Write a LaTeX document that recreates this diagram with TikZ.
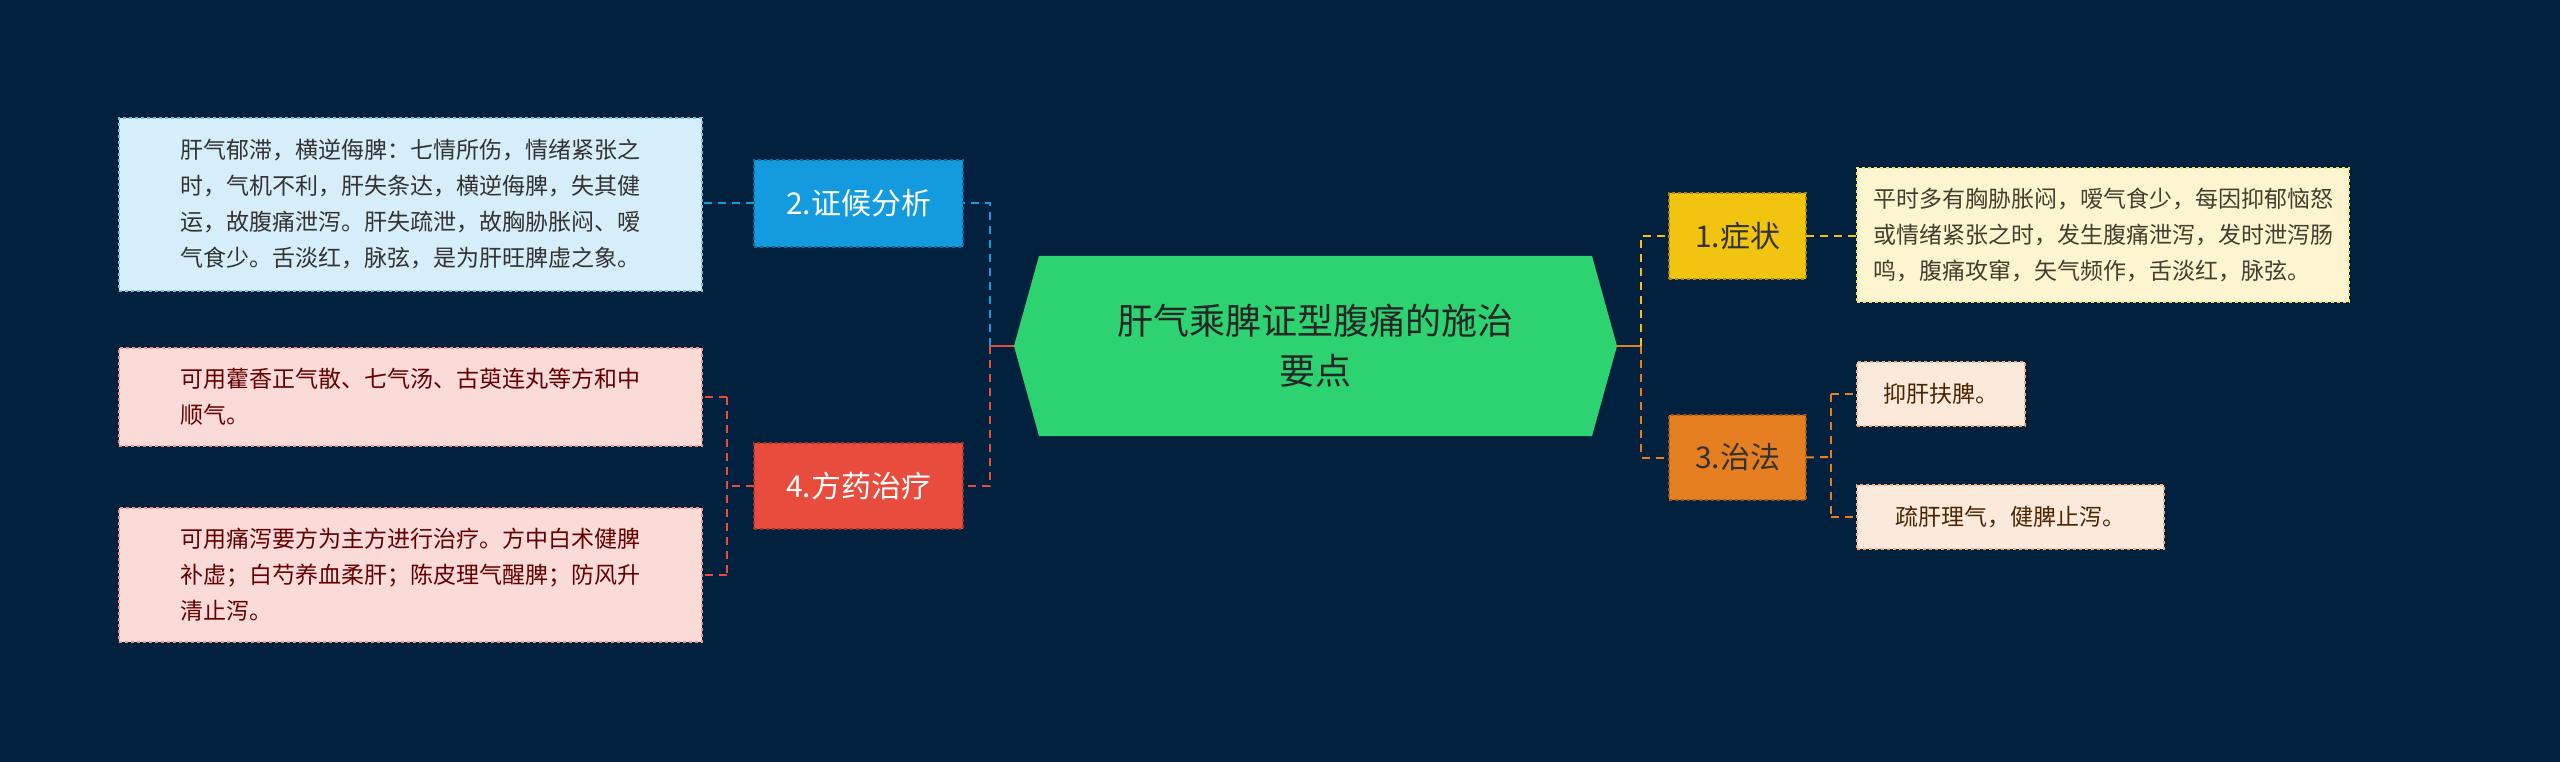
\documentclass[tikz,border=0pt]{standalone}
\usepackage{fontspec}
\setmainfont{Noto Sans CJK SC}
\usetikzlibrary{positioning}
\definecolor{bg}{RGB}{2,33,63}
\definecolor{cgreen}{RGB}{46,211,113}
\definecolor{cblue}{RGB}{20,154,222}
\definecolor{cred}{RGB}{231,76,60}
\definecolor{cyel}{RGB}{241,196,15}
\definecolor{corg}{RGB}{230,126,34}
\definecolor{lblue}{RGB}{214,238,250}
\definecolor{lpink}{RGB}{250,219,216}
\definecolor{lcream}{RGB}{253,245,208}
\definecolor{lpeach}{RGB}{251,233,220}
\tikzset{
  box/.style={draw, dashed, line width=1.5pt, inner sep=0pt, outer sep=0pt, anchor=north west},
  leaf/.style={box, font=\fontsize{23}{36}\selectfont, align=left, inner xsep=16pt},
  con/.style={line width=2pt, dashed, dash pattern=on 8pt off 6pt},
}
\begin{document}
\begin{tikzpicture}[x=1pt,y=-1pt]
\fill[bg] (0,0) rectangle (2560,762);
\useasboundingbox (0,0) rectangle (2560,762);
% center
\fill[cgreen] (1014,346) -- (1039,256) -- (1592,256) -- (1617,346) -- (1592,436) -- (1039,436) -- cycle;
\node[font=\fontsize{36}{50}\selectfont, text=black!85, align=center] (c) at (1315.5,346) {肝气乘脾证型腹痛的施治\\要点};
\coordinate (cl) at (1014,346);
\coordinate (cr) at (1617,346);
% main nodes
\node[box, fill=cblue, draw=cblue!70!black, minimum width=209pt, minimum height=87pt, text=white, font=\fontsize{30}{36}\selectfont] (n2) at (754,160) {2.证候分析};
\node[box, fill=cred, draw=cred!70!black, minimum width=209pt, minimum height=86pt, text=white, font=\fontsize{30}{36}\selectfont] (n4) at (754,443) {4.方药治疗};
\node[box, fill=cyel, draw=cyel!70!black, minimum width=137pt, minimum height=86pt, text=black!80, font=\fontsize{30}{36}\selectfont] (n1) at (1669,193) {1.症状};
\node[box, fill=corg, draw=corg!70!black, minimum width=137pt, minimum height=85pt, text=black!80, font=\fontsize{30}{36}\selectfont] (n3) at (1669,415) {3.治法};
% leaves
\node[leaf, fill=lblue, draw=cblue!60, text=black!80, minimum width=583pt, minimum height=173pt] (l1) at (119,118) {肝气郁滞，横逆侮脾：七情所伤，情绪紧张之\\时，气机不利，肝失条达，横逆侮脾，失其健\\运，故腹痛泄泻。肝失疏泄，故胸胁胀闷、嗳\\气食少。舌淡红，脉弦，是为肝旺脾虚之象。};
\node[leaf, fill=lpink, draw=cred!60, text=red!40!black, minimum width=583pt, minimum height=98pt] (l2) at (119,348) {可用藿香正气散、七气汤、古萸连丸等方和中\\顺气。};
\node[leaf, fill=lpink, draw=cred!60, text=red!40!black, minimum width=583pt, minimum height=134pt] (l3) at (119,508) {可用痛泻要方为主方进行治疗。方中白术健脾\\补虚；白芍养血柔肝；陈皮理气醒脾；防风升\\清止泻。};
\node[leaf, fill=lcream, draw=cyel!60, text=olive!30!black, minimum width=406pt, minimum height=134pt] (r1) at (1857,168) {平时多有胸胁胀闷，嗳气食少，每因抑郁恼怒\\或情绪紧张之时，发生腹痛泄泻，发时泄泻肠\\鸣，腹痛攻窜，矢气频作，舌淡红，脉弦。};
\node[leaf, fill=lpeach, draw=corg!60, text=orange!30!black, minimum width=168pt, minimum height=64pt] (r2) at (1857,362) {抑肝扶脾。};
\node[leaf, fill=lpeach, draw=corg!60, text=orange!30!black, minimum width=307pt, minimum height=64pt] (r3) at (1857,485) {疏肝理气，健脾止泻。};
% connectors left
\coordinate (jl) at (990,346);
\draw[cred, line width=2.5pt] (cl) -- (jl);
\draw[con, cblue] (jl) |- (n2.east);
\draw[con, cred] (jl) |- (n4.east);
\draw[con, cblue] (n2.west) -- (l1.east |- n2.west);
\coordinate (j4) at (727,486);
\draw[con, cred] (n4.west) -- (j4);
\draw[con, cred] (j4 |- l2.east) -- (j4 |- l3.east);
\draw[con, cred] (j4 |- l2.east) -- (l2.east);
\draw[con, cred] (j4 |- l3.east) -- (l3.east);
% connectors right
\coordinate (jr) at (1641,346);
\draw[corg, line width=2.5pt] (cr) -- (jr);
\draw[con, cyel] (jr) |- (n1.west);
\draw[con, corg] (jr) |- (n3.west);
\draw[con, cyel] (n1.east) -- (r1.west |- n1.east);
\coordinate (j3) at (1831,457);
\draw[con, corg] (n3.east) -- (j3);
\draw[con, corg] (j3 |- r2.west) -- (j3 |- r3.west);
\draw[con, corg] (j3 |- r2.west) -- (r2.west);
\draw[con, corg] (j3 |- r3.west) -- (r3.west);
\end{tikzpicture}
\end{document}
